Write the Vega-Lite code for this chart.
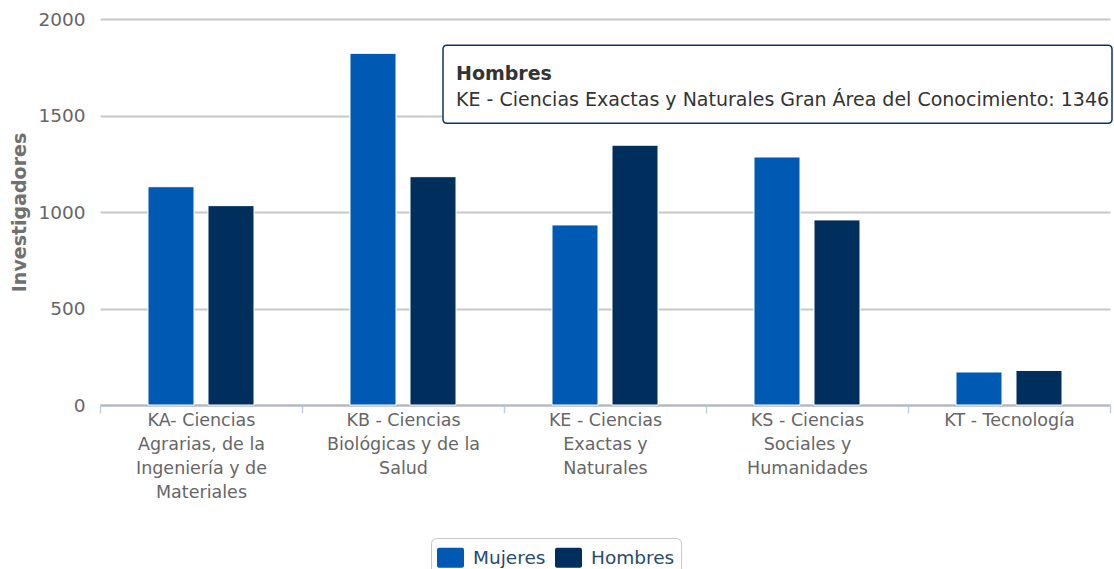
{
  "$schema": "https://vega.github.io/schema/vega-lite/v6.json",
  "width": 1010,
  "height": 386,
  "autosize": {"type": "none"},
  "padding": {"left": 100, "top": 19, "right": 4, "bottom": 164},
  "background": "white",
  "config": {"view": {"stroke": null}},
  "layer": [
    {
      "data": {"values": [
        {"area": "KA - Ciencias Agrarias, de la Ingeniería y de Materiales", "serie": "Mujeres", "valor": 1131},
        {"area": "KA - Ciencias Agrarias, de la Ingeniería y de Materiales", "serie": "Hombres", "valor": 1033},
        {"area": "KB - Ciencias Biológicas y de la Salud", "serie": "Mujeres", "valor": 1822},
        {"area": "KB - Ciencias Biológicas y de la Salud", "serie": "Hombres", "valor": 1183},
        {"area": "KE - Ciencias Exactas y Naturales", "serie": "Mujeres", "valor": 933},
        {"area": "KE - Ciencias Exactas y Naturales", "serie": "Hombres", "valor": 1346},
        {"area": "KS - Ciencias Sociales y Humanidades", "serie": "Mujeres", "valor": 1285},
        {"area": "KS - Ciencias Sociales y Humanidades", "serie": "Hombres", "valor": 959},
        {"area": "KT - Tecnología", "serie": "Mujeres", "valor": 171},
        {"area": "KT - Tecnología", "serie": "Hombres", "valor": 179}
      ]},
      "mark": {"type": "bar", "stroke": "white", "strokeWidth": 1},
      "encoding": {
        "x": {
          "field": "area", "type": "nominal", "sort": null,
          "scale": {"paddingInner": 0, "paddingOuter": 0},
          "axis": {
            "title": null,
            "labelAngle": 0,
            "tickBand": "extent",
            "ticks": true,
            "tickColor": "#c0d0e0",
            "tickSize": 8,
            "tickWidth": 1.5,
            "domainColor": "#b0b8c4",
            "domainWidth": 2,
            "grid": false,
            "labelFont": "DejaVu Sans",
            "labelFontSize": 17.5,
            "labelColor": "#666666",
            "labelPadding": -2,
            "labelLineHeight": 24,
            "labelBaseline": "top",
            "labelLimit": 0,
            "labelOverlap": false,
            "labelExpr": "datum.value == 'KA - Ciencias Agrarias, de la Ingeniería y de Materiales' ? ['KA- Ciencias','Agrarias, de la','Ingeniería y de','Materiales'] : datum.value == 'KB - Ciencias Biológicas y de la Salud' ? ['KB - Ciencias','Biológicas y de la','Salud'] : datum.value == 'KE - Ciencias Exactas y Naturales' ? ['KE - Ciencias','Exactas y','Naturales'] : datum.value == 'KS - Ciencias Sociales y Humanidades' ? ['KS - Ciencias','Sociales y','Humanidades'] : datum.label"
          }
        },
        "xOffset": {
          "field": "serie", "type": "nominal", "sort": ["Mujeres", "Hombres"],
          "scale": {"paddingInner": 0.2333, "paddingOuter": 0.8}
        },
        "y": {
          "field": "valor", "type": "quantitative",
          "scale": {"domain": [0, 2000], "nice": false},
          "axis": {
            "values": [0, 500, 1000, 1500, 2000],
            "format": "d",
            "domain": false,
            "ticks": false,
            "grid": true,
            "gridColor": "#c8c8c8",
            "gridWidth": 2,
            "labelFont": "DejaVu Sans",
            "labelFontSize": 18.5,
            "labelColor": "#666666",
            "labelPadding": 15,
            "title": "Investigadores",
            "titleFont": "DejaVu Sans",
            "titleFontWeight": "bold",
            "titleFontSize": 19,
            "titleColor": "#707070",
            "titlePadding": 8
          }
        },
        "color": {
          "field": "serie", "type": "nominal",
          "scale": {"domain": ["Mujeres", "Hombres"], "range": ["#0059b2", "#002f5e"]},
          "legend": {
            "title": null,
            "orient": "none",
            "legendX": 331,
            "legendY": 519,
            "direction": "horizontal",
            "fillColor": "white",
            "strokeColor": "#c8c8c8",
            "cornerRadius": 5,
            "padding": 6,
            "symbolType": "M-0.85,-0.74 L0.85,-0.74 Q1,-0.74 1,-0.59 L1,0.59 Q1,0.74 0.85,0.74 L-0.85,0.74 Q-1,0.74 -1,0.59 L-1,-0.59 Q-1,-0.74 -0.85,-0.74 Z",
            "symbolSize": 729,
            "symbolStrokeWidth": 0,
            "symbolOpacity": 1,
            "labelFont": "DejaVu Sans",
            "labelFontSize": 18.5,
            "labelColor": "#274b6d",
            "labelOffset": 9,
            "columnPadding": 9
          }
        }
      }
    },
    {
      "data": {"values": [
        {"area": "KE - Ciencias Exactas y Naturales", "valor": 1346, "titulo": "Hombres", "texto": "KE - Ciencias Exactas y Naturales Gran Área del Conocimiento: 1346"}
      ]},
      "layer": [
        {
          "mark": {
            "type": "point",
            "shape": "M-0.988,-0.1166 L0.988,-0.1166 Q1,-0.1166 1,-0.1046 L1,0.1046 Q1,0.1166 0.988,0.1166 L-0.988,0.1166 Q-1,0.1166 -1,0.1046 L-1,-0.1046 Q-1,-0.1166 -0.988,-0.1166 Z",
            "size": 447561,
            "filled": true,
            "fill": "white",
            "stroke": "#0b3562",
            "strokeWidth": 1.5,
            "opacity": 1,
            "xOffset": 172.5,
            "yOffset": -61
          },
          "encoding": {
            "x": {"field": "area", "type": "nominal", "sort": null},
            "y": {"field": "valor", "type": "quantitative"}
          }
        },
        {
          "mark": {"type": "text", "align": "left", "baseline": "alphabetic", "dx": -149, "dy": -65, "font": "DejaVu Sans", "fontSize": 19, "fontWeight": "bold", "color": "#333333"},
          "encoding": {
            "x": {"field": "area", "type": "nominal", "sort": null},
            "y": {"field": "valor", "type": "quantitative"},
            "text": {"field": "titulo"}
          }
        },
        {
          "mark": {"type": "text", "align": "left", "baseline": "alphabetic", "dx": -149, "dy": -39, "font": "DejaVu Sans", "fontSize": 19, "color": "#333333"},
          "encoding": {
            "x": {"field": "area", "type": "nominal", "sort": null},
            "y": {"field": "valor", "type": "quantitative"},
            "text": {"field": "texto"}
          }
        }
      ]
    }
  ]
}
